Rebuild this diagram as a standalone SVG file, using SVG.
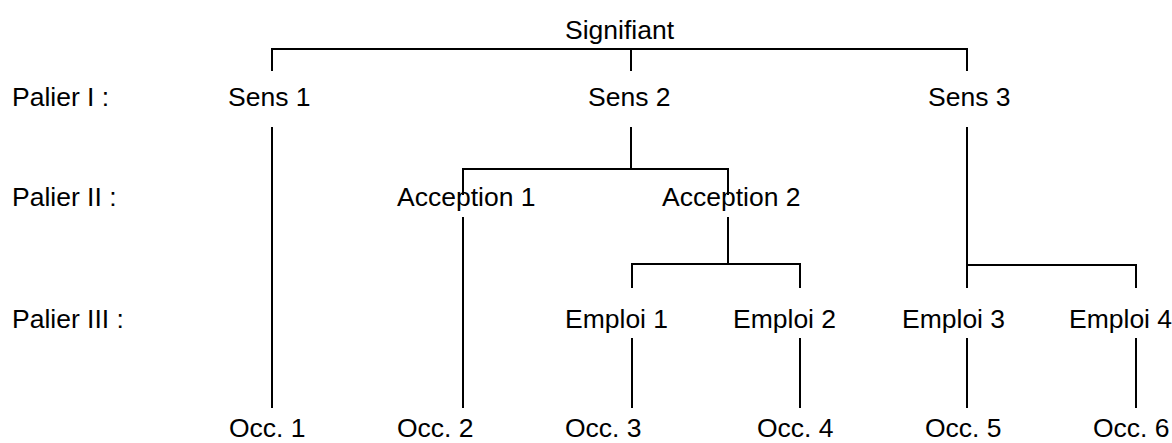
<svg xmlns="http://www.w3.org/2000/svg" width="1172" height="443" viewBox="0 0 1172 443">
  <style>
    text { font-family: "Liberation Sans", Arial, sans-serif; font-size: 26.5px; fill: #000; }
    .link { fill: none; stroke: #000; stroke-width: 2; }
  </style>
  <rect width="1172" height="443" fill="#fff"/>

  <!-- level labels -->
  <g id="levels">
    <text x="12" y="106">Palier I :</text>
    <text x="12" y="206">Palier II :</text>
    <text x="12" y="328">Palier III :</text>
  </g>

  <!-- tree branches -->
  <g id="connectors" class="link">
    <!-- Signifiant to senses -->
    <path d="M272,71 V49 H967 V71 M631,49 V71"/>
    <!-- Sens 1 to Occ. 1 -->
    <path d="M272,127 V408"/>
    <!-- Sens 2 to acceptions -->
    <path d="M631,127 V169 M463,195 V169 H728 V195"/>
    <!-- Acception 1 to Occ. 2 -->
    <path d="M463,217 V408"/>
    <!-- Acception 2 to Emploi 1 / Emploi 2 -->
    <path d="M728,217 V264 M632,288 V264 H800 V288"/>
    <!-- Sens 3 to Emploi 3 / Emploi 4 -->
    <path d="M967,127 V265 H1136 V288 M967,265 V288"/>
    <!-- emplois to occurrences -->
    <path d="M632,338 V408 M800,338 V408 M967,338 V408 M1136,338 V408"/>
  </g>

  <g id="signifiant"><text x="565" y="39">Signifiant</text></g>

  <g id="sens1"><text x="228" y="106">Sens 1</text></g>
  <g id="sens2"><text x="588" y="106">Sens 2</text></g>
  <g id="sens3"><text x="928" y="106">Sens 3</text></g>

  <g id="acception1"><text x="397" y="206">Acception 1</text></g>
  <g id="acception2"><text x="662" y="206">Acception 2</text></g>

  <g id="emploi1"><text x="565" y="328">Emploi 1</text></g>
  <g id="emploi2"><text x="733" y="328">Emploi 2</text></g>
  <g id="emploi3"><text x="902" y="328">Emploi 3</text></g>
  <g id="emploi4"><text x="1069" y="328">Emploi 4</text></g>

  <g id="occ1"><text x="229" y="437">Occ. 1</text></g>
  <g id="occ2"><text x="397" y="437">Occ. 2</text></g>
  <g id="occ3"><text x="565" y="437">Occ. 3</text></g>
  <g id="occ4"><text x="757" y="437">Occ. 4</text></g>
  <g id="occ5"><text x="925" y="437">Occ. 5</text></g>
  <g id="occ6"><text x="1093" y="437">Occ. 6</text></g>
</svg>
